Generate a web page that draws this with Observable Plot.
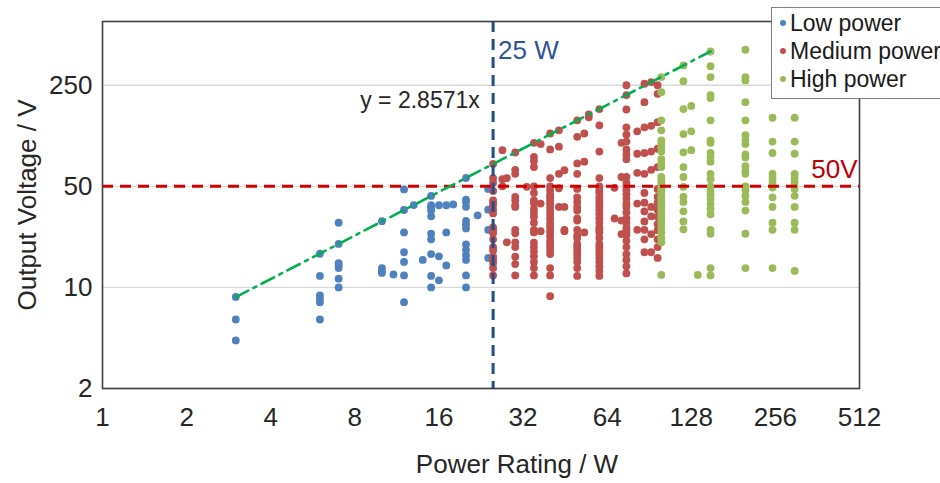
<!DOCTYPE html>
<html>
<head>
<meta charset="utf-8">
<script src="https://cdn.jsdelivr.net/npm/d3@7"></script>
<script src="https://cdn.jsdelivr.net/npm/@observablehq/plot@0.6"></script>
<style>
  html, body { margin: 0; padding: 0; background: #fff; overflow: hidden; }
  #wrap { position: relative; width: 940px; height: 483px; font-family: "Liberation Sans", Arial, sans-serif; }
  #legend { position: absolute; left: 771px; top: 7px; width: 200px; height: 92px; background: #fff;
            border: 1.5px solid #808080; box-sizing: border-box; }
  .item { position: absolute; left: 0; height: 28px; line-height: 28px; font-size: 23px; color: #1a1a1a; white-space: nowrap; }
  .item span.dot { position: absolute; left: 8px; top: 11px; width: 6px; height: 6px; border-radius: 50%; }
  .item span.lab { position: absolute; left: 18px; }
</style>
</head>
<body>
<div id="wrap"></div>
<script>
// ---- data (power rating W, output voltages V) ----
const lowPowerColumns = [
  [3, [8.6, 6, 4.3]],
  [6, [17.1, 12, 8.8, 8.3, 7.9, 6]],
  [7, [28, 20, 14.7, 14.1, 13.6, 11.5, 10]],
  [10, [28.7, 13.6, 13, 12.6]],
  [11, [12.3]],
  [12, [47.6, 34.3, 24, 17.5, 15, 12.1, 7.9]],
  [13, [37.1]],
  [14, [15.5]],
  [15, [42.9, 37, 35.5, 34, 31, 23.5, 21.5, 17, 12, 10]],
  [16, [37, 16.4, 11.2]],
  [17, [37, 24, 14.2]],
  [18, [37.5]],
  [20, [57.1, 40.5, 39, 36.1, 28.8, 27.2, 25.6, 19.8, 18.2, 16.7, 15.5, 12.1, 10]],
  [22, [31.5]],
  [24, [48, 34.5, 25, 16]]
];
const mediumPowerColumns = [
  [25, [71.4, 57, 53, 46.5, 40, 38.5, 37, 34.5, 32.5, 26, 24.7, 23.7, 21.5, 19, 18, 16.3, 15.5, 14.7, 13.6, 12.1]],
  [27, [89, 56, 50]],
  [28, [57, 20.5]],
  [30, [85.7, 65, 61, 42.3, 40, 37, 36, 25, 23.7, 20.5, 19, 16.3, 14.5, 12.1]],
  [33, [49.6]],
  [35, [100, 80, 75, 68, 50, 45, 40, 38.4, 35, 33, 30.8, 28, 25, 24, 20.4, 19, 17.7, 16.4, 15, 13.6, 12.1]],
  [37, [98, 38, 24.5]],
  [40, [116, 90, 57, 50, 47, 44, 42, 40, 38, 36, 34, 32, 30, 28, 26.5, 25, 24, 22.5, 21, 20, 19, 18, 17, 13.6, 12.1, 8.7]],
  [43, [122, 94, 61, 48.5, 36]],
  [45, [64.7, 36, 25, 24.5]],
  [50, [143, 110, 72, 61, 48, 42, 39, 36, 34, 30, 29, 25, 23, 22, 20, 19, 18, 17, 16, 15, 13.6, 12]],
  [53, [116, 74, 24]],
  [55, [157, 150]],
  [60, [171, 132, 87, 57, 50, 47, 45, 42, 40, 38, 36, 34, 32, 30, 28, 26, 25, 24, 22, 20, 19, 18, 17, 16, 15, 14, 13, 12]],
  [68, [48.8, 30]],
  [72, [100, 58, 29, 23.4]],
  [75, [250, 214, 170, 128, 114, 102, 90, 83, 77, 58, 53, 50, 47, 44, 41, 38, 36, 33, 30, 28, 26, 25, 24, 23, 21, 19, 17, 15.5, 14, 12.5]],
  [82, [120, 84, 62, 38, 25]],
  [87, [256, 191, 128, 85, 61, 45, 38.5, 33.6, 28.6, 25, 21.5, 17.5]],
  [92, [263, 131, 87, 65, 36, 31, 23.4, 17.5]],
  [97, [250, 218, 139, 91, 68, 48, 42.3, 38.5, 34.5, 30.8, 27.4, 24.9, 21.5, 19, 16]]
];
const highPowerColumns = [
  [100, [285, 224, 143, 122, 104, 98.5, 93, 87, 77, 72, 68, 58, 55, 53, 50, 48, 46, 44, 42, 40, 38, 36, 34, 32, 30, 28, 26, 24, 22, 20.5, 12.2]],
  [120, [343, 267, 171, 115, 86, 68, 58, 49.6, 42.3, 39, 33.6, 28.6, 25.2]],
  [128, [180, 120, 89]],
  [135, [12.2]],
  [150, [428, 339, 285, 214, 204, 143, 104, 100, 85, 80, 74, 61, 56, 50, 47, 44, 41, 38, 35, 32, 25, 23.5, 13.6, 12.1]],
  [200, [440, 285, 270, 191, 143, 113, 104, 98, 83, 79, 69, 64, 61, 50, 47, 43, 39, 34, 23.5, 13.6]],
  [250, [149, 102, 85, 61, 57, 53, 49, 42, 36, 28, 25, 13.6]],
  [300, [149, 102, 84, 61, 57, 53, 48, 43, 36, 28, 25, 13]]
];
const trendPower = [3, 150];
const trendVoltage = [8.571, 428.57];
const xTicks = [1, 2, 4, 8, 16, 32, 64, 128, 256, 512];
const yTicks = [2, 10, 50, 250];
const groupNames = ["Low power", "Medium power", "High power"];
const groupColors = ["#4f81bd", "#c0504d", "#9bbb59"];

// ---- build rows ----
const rows = [];
[lowPowerColumns, mediumPowerColumns, highPowerColumns].forEach((cols, gi) => {
  cols.forEach(([w, vs]) => vs.forEach(v => rows.push({power: w, voltage: v, group: groupNames[gi]})));
});
const trend = trendPower.map((p, i) => ({power: p, voltage: trendVoltage[i]}));

const font = "'Liberation Sans', Arial, sans-serif";
const chart = Plot.plot({
  width: 940,
  height: 483,
  marginLeft: 102,
  marginRight: 81,
  marginTop: 21,
  marginBottom: 95,
  style: {fontFamily: font, fontSize: "26px", color: "#262626", background: "#fff", overflow: "visible"},
  x: {type: "log", base: 2, domain: [1, 512]},
  y: {type: "log", domain: [2, 690], axis: null},
  color: {domain: groupNames, range: groupColors},
  marks: [
    Plot.gridY(yTicks, {stroke: "#d9d9d9", strokeOpacity: 1, strokeWidth: 1.3}),
    Plot.axisX(xTicks, {tickSize: 0, tickPadding: 19, tickFormat: d => String(d), label: null, fontSize: 26, fill: "#262626"}),
    Plot.text(yTicks, {y: d => d, text: d => String(d), frameAnchor: "left", dx: -10, textAnchor: "end", fill: "#262626", fontSize: 26}),
    Plot.dot(rows, {x: "power", y: "voltage", fill: "group", r: 3.9, stroke: null}),
    Plot.ruleY([50], {stroke: "#d40000", strokeWidth: 3, strokeDasharray: "11,7"}),
    Plot.ruleX([25], {stroke: "#1f4e8c", strokeWidth: 3, strokeDasharray: "11,7"}),
    Plot.line(trend, {x: "power", y: "voltage", stroke: "#00b050", strokeWidth: 2.6, strokeDasharray: "14,6,3,6"}),
    Plot.frame({stroke: "#404040", strokeWidth: 1.6}),
    Plot.text(["25 W"], {text: d => d, x: 25, frameAnchor: "top", dx: 5, dy: 19, textAnchor: "start", fill: "#2f5597", fontSize: 26}),
    Plot.text(["50V"], {text: d => d, y: 50, frameAnchor: "right", dx: -2, dy: -17, textAnchor: "end", fill: "#c00000", fontSize: 26}),
    Plot.text(["y = 2.8571x"], {text: d => d, x: 22.4, y: 197, textAnchor: "end", fill: "#262626", fontSize: 23}),
    Plot.text(["Power Rating / W"], {text: d => d, frameAnchor: "bottom", dx: 36, dy: 84, fill: "#262626", fontSize: 26}),
    Plot.text(["Output Voltage / V"], {text: d => d, frameAnchor: "left", textAnchor: "middle", rotate: -90, dx: -75, fill: "#262626", fontSize: 26})
  ]
});
const wrap = document.getElementById("wrap");
wrap.appendChild(chart);

// legend (overlapping the top-right corner like the original)
const legend = document.createElement("div");
legend.id = "legend";
groupNames.forEach((name, i) => {
  const it = document.createElement("div");
  it.className = "item";
  it.style.top = (1 + i * 28) + "px";
  it.innerHTML = `<span class="dot" style="background:${groupColors[i]}"></span><span class="lab">${name}</span>`;
  it.style.width = "200px";
  legend.appendChild(it);
});
wrap.appendChild(legend);
</script>
</body>
</html>
